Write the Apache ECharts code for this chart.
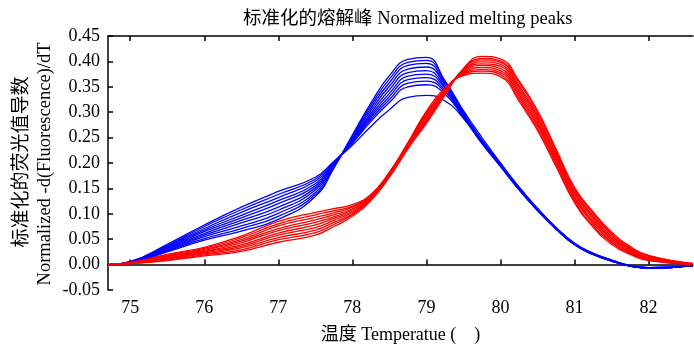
<!DOCTYPE html>
<html>
<head>
<meta charset="utf-8">
<script src="https://cdn.jsdelivr.net/npm/echarts@6/dist/echarts.min.js"></script>
<style>
  html, body { margin: 0; padding: 0; background: #fff; }
  #chart { width: 694px; height: 349px; }
</style>
</head>
<body>
<div id="chart"></div>
<script>
// temperature sample points (°C)
const temps = [74.7, 75, 75.5, 76, 76.5, 77, 77.5, 77.75, 78, 78.25, 78.5, 78.75, 79, 79.25, 79.5, 79.75, 80, 80.25, 80.5, 80.75, 81, 81.25, 81.5, 81.75, 82, 82.6];

const xTicks = [75, 76, 77, 78, 79, 80, 81, 82];

const yNameCn = "标准化的荧光值导数";
const yNameEn = "Normalized -d(Fluorescence)/dT";

// blue group
const blueCurves = [
  [0, 0.003, 0.025, 0.048, 0.066, 0.089, 0.134, 0.190, 0.255, 0.318, 0.372, 0.404, 0.408, 0.362, 0.303, 0.250, 0.200, 0.153, 0.111, 0.073, 0.042, 0.022, 0.009, -0.002, -0.006, -0.002],
  [0, 0.003, 0.027, 0.051, 0.071, 0.095, 0.138, 0.191, 0.253, 0.313, 0.365, 0.398, 0.402, 0.360, 0.300, 0.245, 0.199, 0.152, 0.110, 0.073, 0.042, 0.022, 0.009, -0.002, -0.006, -0.002],
  [0, 0.004, 0.028, 0.055, 0.076, 0.101, 0.142, 0.193, 0.251, 0.308, 0.358, 0.392, 0.396, 0.357, 0.299, 0.244, 0.198, 0.152, 0.110, 0.072, 0.041, 0.022, 0.009, -0.002, -0.006, -0.002],
  [0, 0.004, 0.030, 0.058, 0.082, 0.107, 0.147, 0.194, 0.249, 0.303, 0.351, 0.385, 0.389, 0.354, 0.297, 0.243, 0.198, 0.151, 0.109, 0.072, 0.041, 0.021, 0.008, -0.002, -0.006, -0.002],
  [0, 0.004, 0.032, 0.061, 0.087, 0.113, 0.151, 0.196, 0.247, 0.298, 0.344, 0.378, 0.382, 0.350, 0.295, 0.242, 0.197, 0.150, 0.109, 0.072, 0.041, 0.021, 0.008, -0.003, -0.007, -0.002],
  [0, 0.005, 0.033, 0.065, 0.092, 0.120, 0.155, 0.197, 0.245, 0.294, 0.337, 0.371, 0.375, 0.347, 0.294, 0.242, 0.196, 0.150, 0.108, 0.071, 0.040, 0.021, 0.008, -0.003, -0.007, -0.002],
  [0, 0.005, 0.035, 0.068, 0.097, 0.126, 0.159, 0.199, 0.243, 0.290, 0.331, 0.364, 0.368, 0.343, 0.292, 0.241, 0.195, 0.149, 0.108, 0.071, 0.040, 0.021, 0.008, -0.003, -0.007, -0.002],
  [0, 0.005, 0.037, 0.071, 0.103, 0.132, 0.164, 0.200, 0.241, 0.286, 0.325, 0.357, 0.361, 0.340, 0.291, 0.240, 0.195, 0.148, 0.107, 0.071, 0.040, 0.020, 0.007, -0.003, -0.007, -0.002],
  [0, 0.006, 0.038, 0.075, 0.108, 0.138, 0.168, 0.202, 0.239, 0.282, 0.319, 0.350, 0.354, 0.336, 0.289, 0.239, 0.194, 0.148, 0.107, 0.070, 0.039, 0.020, 0.007, -0.003, -0.007, -0.002],
  [0, 0.006, 0.040, 0.078, 0.113, 0.144, 0.172, 0.203, 0.235, 0.272, 0.305, 0.329, 0.333, 0.322, 0.288, 0.238, 0.193, 0.147, 0.106, 0.070, 0.039, 0.020, 0.007, -0.003, -0.007, -0.002]
];

// red group
const redCurves = [
  [0, 0.002, 0.008, 0.017, 0.026, 0.044, 0.058, 0.075, 0.095, 0.126, 0.172, 0.228, 0.278, 0.333, 0.386, 0.410, 0.405, 0.362, 0.303, 0.228, 0.152, 0.104, 0.064, 0.036, 0.018, 0.002],
  [0, 0.002, 0.009, 0.019, 0.029, 0.049, 0.063, 0.079, 0.098, 0.127, 0.173, 0.229, 0.281, 0.335, 0.385, 0.406, 0.401, 0.358, 0.299, 0.224, 0.149, 0.101, 0.061, 0.034, 0.017, 0.002],
  [0, 0.002, 0.011, 0.021, 0.033, 0.053, 0.068, 0.083, 0.100, 0.129, 0.174, 0.231, 0.283, 0.336, 0.384, 0.403, 0.398, 0.353, 0.294, 0.220, 0.145, 0.097, 0.059, 0.032, 0.016, 0.002],
  [0, 0.003, 0.012, 0.023, 0.036, 0.058, 0.073, 0.087, 0.103, 0.130, 0.175, 0.232, 0.286, 0.338, 0.382, 0.399, 0.394, 0.349, 0.290, 0.216, 0.142, 0.094, 0.056, 0.031, 0.014, 0.001],
  [0, 0.003, 0.013, 0.025, 0.039, 0.062, 0.078, 0.091, 0.105, 0.131, 0.176, 0.233, 0.288, 0.339, 0.381, 0.395, 0.390, 0.344, 0.286, 0.212, 0.139, 0.091, 0.053, 0.029, 0.013, 0.001],
  [0, 0.003, 0.015, 0.026, 0.043, 0.067, 0.083, 0.094, 0.108, 0.133, 0.178, 0.235, 0.292, 0.341, 0.379, 0.392, 0.386, 0.340, 0.281, 0.209, 0.135, 0.087, 0.051, 0.027, 0.012, 0.001],
  [0, 0.003, 0.016, 0.028, 0.046, 0.071, 0.088, 0.098, 0.110, 0.134, 0.179, 0.236, 0.294, 0.342, 0.377, 0.388, 0.382, 0.335, 0.277, 0.205, 0.132, 0.084, 0.048, 0.025, 0.011, 0.001],
  [0, 0.004, 0.017, 0.030, 0.049, 0.076, 0.093, 0.102, 0.113, 0.135, 0.180, 0.237, 0.297, 0.344, 0.376, 0.384, 0.378, 0.331, 0.273, 0.201, 0.129, 0.081, 0.045, 0.023, 0.010, 0.001],
  [0, 0.004, 0.019, 0.032, 0.053, 0.080, 0.098, 0.106, 0.115, 0.137, 0.181, 0.239, 0.299, 0.345, 0.374, 0.381, 0.374, 0.326, 0.268, 0.197, 0.125, 0.077, 0.043, 0.022, 0.009, 0.001],
  [0, 0.004, 0.020, 0.034, 0.056, 0.085, 0.103, 0.110, 0.118, 0.138, 0.182, 0.240, 0.302, 0.347, 0.372, 0.377, 0.370, 0.322, 0.264, 0.193, 0.122, 0.074, 0.040, 0.020, 0.008, 0.001]
];

const serif = "'Liberation Serif', 'Noto Sans CJK SC', serif";

function makeSeries(curves, color) {
  return curves.map((vals) => ({
    type: "line",
    smooth: true,
    showSymbol: false,
    silent: true,
    lineStyle: { width: 1.3, color: color },
    data: temps.map((t, i) => [t, vals[i]]),
  }));
}

const chart = echarts.init(document.getElementById("chart"));

chart.setOption({
  animation: false,
  title: {
    text: "标准化的熔解峰 Normalized melting peaks",
    left: 238,
    top: 5,
    textStyle: { fontFamily: serif, fontSize: 18.5, fontWeight: "normal", color: "#000" },
  },
  // two-line rotated y title
  graphic: [
    {
      type: "text",
      x: 20,
      y: 162,
      rotation: Math.PI / 2,
      style: {
        text: yNameCn,
        fontFamily: "Noto Sans CJK SC",
        fontSize: 19,
        fill: "#000",
        align: "center",
        verticalAlign: "middle",
      },
    },
    {
      type: "text",
      x: 45,
      y: 164,
      rotation: Math.PI / 2,
      style: {
        text: yNameEn,
        fontFamily: "Liberation Serif",
        fontSize: 18.5,
        fill: "#000",
        align: "center",
        verticalAlign: "middle",
      },
    },
  ],
  grid: { left: 108, right: 1, top: 36, bottom: 58 },
  xAxis: [
    {
      type: "value",
      position: "bottom",
      min: 74.7,
      max: 82.6,
      name: "温度 Temperatue (    )",
      nameLocation: "middle",
      nameGap: 36,
      nameTextStyle: { fontFamily: serif, fontSize: 18, color: "#000" },
      axisLine: { lineStyle: { color: "#000", width: 1.5 } },
      axisTick: { inside: true, length: 5, customValues: xTicks, lineStyle: { color: "#000", width: 1.5 } },
      axisLabel: { customValues: xTicks, margin: 9, fontFamily: serif, fontSize: 18, color: "#000" },
      splitLine: { show: false },
    },
    {
      type: "value",
      position: "top",
      min: 74.7,
      max: 82.6,
      axisLine: { lineStyle: { color: "#000", width: 1.5 } },
      axisTick: { inside: true, length: 5, customValues: xTicks, lineStyle: { color: "#000", width: 1.5 } },
      axisLabel: { show: false },
      splitLine: { show: false },
    },
  ],
  yAxis: {
    type: "value",
    min: -0.05,
    max: 0.45,
    interval: 0.05,
    axisLine: { show: true, lineStyle: { color: "#000", width: 1.5 } },
    axisTick: { show: true, inside: true, length: 5, lineStyle: { color: "#000", width: 1.5 } },
    axisLabel: {
      margin: 8,
      fontFamily: serif,
      fontSize: 18,
      color: "#000",
      formatter: (v) => v.toFixed(2),
    },
    splitLine: { show: false },
  },
  series: [...makeSeries(blueCurves, "#0000ff"), ...makeSeries(redCurves, "#ff0000")],
});
</script>
</body>
</html>
